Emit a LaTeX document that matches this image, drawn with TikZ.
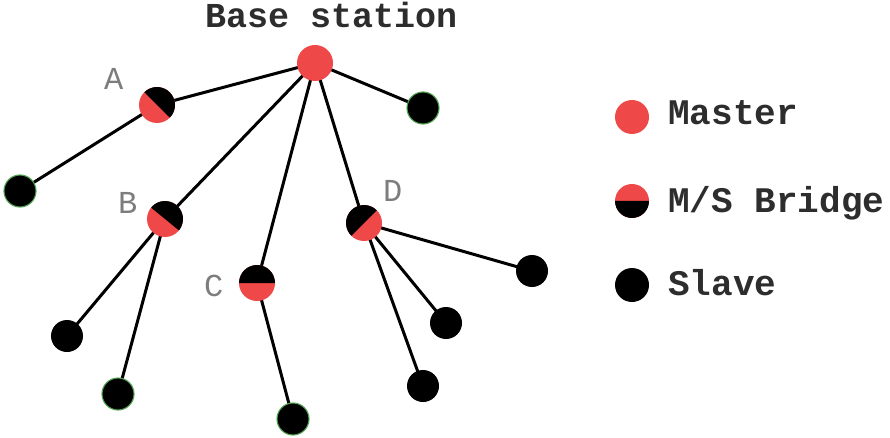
\documentclass[tikz,border=0pt]{standalone}
\usepackage{fontspec}
\setmainfont{Liberation Mono}
\usetikzlibrary{calc}
\definecolor{mred}{RGB}{239,72,72}
\definecolor{ringgreen}{RGB}{80,160,80}
\definecolor{labgray}{RGB}{125,125,125}
\definecolor{txtdark}{RGB}{45,45,45}
\tikzset{
  link/.style={line width=3pt, black},
  master/.style={circle, fill=mred, minimum size=36pt, inner sep=0pt},
  slave/.style={circle, fill=black, minimum size=32pt, inner sep=0pt},
  greenring/.style={draw=ringgreen, line width=1.1pt},
  bridgenode/.style={circle, fill=mred, minimum size=36pt, inner sep=0pt},
  letterlab/.style={inner sep=0pt, anchor=base west, text=labgray, font=\fontsize{32}{32}\selectfont},
  legendtxt/.style={inner sep=0pt, anchor=base west, text=txtdark, font=\fontsize{36}{36}\selectfont\bfseries},
}
% black half of a bridge disc (#1, radius #3), the half that faces point #2
\newcommand{\bridgehalf}[3]{%
  \begin{scope}
    \clip (#1) circle[radius=#3];
    \fill[black] ($(#1)!30pt!90:(#2)$) -- ($(#1)!42.43pt!45:(#2)$)
      -- ($(#1)!42.43pt!-45:(#2)$) -- ($(#1)!30pt!-90:(#2)$) -- cycle;
  \end{scope}}
\begin{document}
\begin{tikzpicture}[x=1pt, y=-1pt]
\useasboundingbox (0,0) rectangle (890,438);

% node positions
\coordinate (m) at (315,63);
\coordinate (a) at (157,105);
\coordinate (b) at (165,219);
\coordinate (c) at (257,283);
\coordinate (d) at (364,223);
\coordinate (s1) at (423,108);
\coordinate (s2) at (20,191);
\coordinate (s3) at (67,336);
\coordinate (s4) at (118,394);
\coordinate (s5) at (293,419);
\coordinate (s6) at (532,271);
\coordinate (s7) at (446,323);
\coordinate (s8) at (423,386);

% which way the black half of each bridge faces
\coordinate (adir) at ($(a)+(10,-10)$);
\coordinate (bdir) at ($(b)+(9,-11)$);
\coordinate (cdir) at ($(c)+(0,-10)$);
\coordinate (ddir) at ($(d)+(-10,-10)$);

% links
\draw[link] (m) -- (a);
\draw[link] (m) -- (s1);
\draw[link] (m) -- (b);
\draw[link] (m) -- (c);
\draw[link] (m) -- (d);
\draw[link] (a) -- (s2);
\draw[link] (b) -- (s3);
\draw[link] (b) -- (s4);
\draw[link] (c) -- (s5);
\draw[link] (d) -- (s6);
\draw[link] (d) -- (s7);
\draw[link] (d) -- (s8);

% base station
\node[master] (mn) at (m) {};
\node[inner sep=0pt, anchor=base west, text=txtdark, font=\fontsize{35}{35}\selectfont\bfseries] (bslab) at (205,28) {Base station};

% slaves
\node[slave, greenring] (n1) at (s1) {};
\node[slave, greenring] (n2) at (s2) {};
\node[slave] (n3) at (s3) {};
\node[slave, greenring] (n4) at (s4) {};
\node[slave, greenring] (n5) at (s5) {};
\node[slave] (n6) at (s6) {};
\node[slave] (n7) at (s7) {};
\node[slave] (n8) at (s8) {};

% bridges: red disc with a black half
\node[bridgenode] (an) at (a) {};
\bridgehalf{a}{adir}{18pt}
\node[bridgenode] (bn) at (b) {};
\bridgehalf{b}{bdir}{18pt}
\node[bridgenode] (cn) at (c) {};
\bridgehalf{c}{cdir}{18pt}
\node[bridgenode] (dn) at (d) {};
\bridgehalf{d}{ddir}{18pt}

% bridge letters
\node[letterlab] (la) at (104,90) {A};
\node[letterlab] (lb) at (118,214) {B};
\node[letterlab] (lc) at (204,296) {C};
\node[letterlab] (ld) at (383,202) {D};

% legend
\node[master, minimum size=34pt] (lgm) at (632,117) {};
\node[bridgenode, minimum size=34pt] (lgb) at (632,201) {};
\coordinate (lgdown) at (632,260);
\bridgehalf{lgb}{lgdown}{17pt}
\node[slave, minimum size=34pt] (lgs) at (632,285) {};
\node[legendtxt] (tm) at (668,125) {Master};
\node[legendtxt] (tb) at (668,212) {M/S Bridge};
\node[legendtxt] (ts) at (668,295) {Slave};
\end{tikzpicture}
\end{document}
